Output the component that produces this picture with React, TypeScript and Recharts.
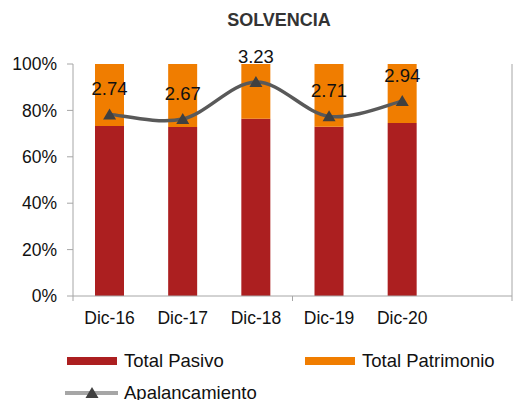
import { ComposedChart, Bar, Line, XAxis, YAxis, LabelList } from 'recharts';

const periodos = ['Dic-16', 'Dic-17', 'Dic-18', 'Dic-19', 'Dic-20', ''];
const totalPasivo = [73.3, 72.8, 76.4, 73.0, 74.6, null];
const totalPatrimonio = [26.7, 27.2, 23.6, 27.0, 25.4, null];
const apalancamiento = [2.74, 2.67, 3.23, 2.71, 2.94, null];
const ticksIzq = [0, 20, 40, 60, 80, 100];
const ticksDer = [0, 0.5, 1, 1.5, 2, 2.5, 3, 3.5];

const FONT = '"Liberation Sans", Arial, sans-serif';
const AXIS = '#a6a6a6';

const data = periodos.map((p, i) => ({
    periodo: p,
    pasivo: totalPasivo[i],
    patrimonio: totalPatrimonio[i],
    apalancamiento: apalancamiento[i],
}));

// curva suavizada tipo Excel (Catmull-Rom -> Bezier)
const curvaExcel = (context: any) => {
    let pts: [number, number][] = [];
    return {
        areaStart() {},
        areaEnd() {},
        lineStart() { pts = []; },
        lineEnd() {
            if (!pts.length) return;
            context.moveTo(pts[0][0], pts[0][1]);
            for (let i = 0; i < pts.length - 1; i++) {
                const p0 = pts[Math.max(i - 1, 0)];
                const p1 = pts[i];
                const p2 = pts[i + 1];
                const p3 = pts[Math.min(i + 2, pts.length - 1)];
                context.bezierCurveTo(
                    p1[0] + (p2[0] - p0[0]) / 6, p1[1] + (p2[1] - p0[1]) / 6,
                    p2[0] - (p3[0] - p1[0]) / 6, p2[1] - (p3[1] - p1[1]) / 6,
                    p2[0], p2[1]
                );
            }
        },
        point(x: number, y: number) { pts.push([+x, +y]); },
    };
};

// marcador triangular como en Excel
const Triangulo = (props: any) => {
    const { cx, cy, index } = props;
    if (cx == null || cy == null || props.value == null) return <g key={index} />;
    return (
        <path
            key={index}
            d={`M${cx},${cy - 6} L${cx + 6.5},${cy + 5} L${cx - 6.5},${cy + 5} Z`}
            fill="#404040"
        />
    );
};

// etiqueta de categoria + marcas entre categorias cada 3
const TickX = (props: any) => {
    const { x, y, payload, index } = props;
    const half = payload.offset || 0;
    let marca = null;
    if (index === 0) marca = x - half;
    else if (index === 2 || index === 5) marca = x + half;
    return (
        <g>
            {marca !== null && <line x1={marca} x2={marca} y1={y - 8} y2={y - 3} stroke={AXIS} />}
            <text x={x} y={y + 20} textAnchor="middle" fontSize={17.5} fill="#111" fontFamily={FONT}>
                {payload.value}
            </text>
        </g>
    );
};

export default function App() {
    return (
        <div style={{ position: 'absolute', left: 0, top: 0, width: 514, height: 400, background: '#fff', fontFamily: FONT }}>
            <div style={{ position: 'absolute', left: 0, width: 558, top: 10, textAlign: 'center', fontWeight: 'bold', fontSize: 18, color: '#333' }}>
                SOLVENCIA
            </div>
            <ComposedChart
                width={514}
                height={400}
                data={data}
                margin={{ top: 64, right: 0, bottom: 74, left: 0 }}
            >
                <XAxis
                    dataKey="periodo"
                    xAxisId={0}
                    stroke={AXIS}
                    tickLine={false}
                    tick={<TickX />}
                    height={30}
                    interval={0}
                />
                <YAxis
                    yAxisId="left"
                    domain={[0, 100]}
                    ticks={ticksIzq}
                    tickFormatter={(v: number) => `${v}%`}
                    stroke={AXIS}
                    tickSize={6}
                    tickMargin={10}
                    width={73}
                    tick={{ fill: '#111', fontSize: 17.5, fontFamily: FONT }}
                />
                <YAxis
                    yAxisId="right"
                    orientation="right"
                    domain={[0, 3.5]}
                    ticks={ticksDer}
                    stroke={AXIS}
                    tickSize={3}
                    tick={false}
                    width={2}
                />
                <Bar yAxisId="left" dataKey="pasivo" stackId="a" fill="#ac1f20" barSize={29} isAnimationActive={false} />
                <Bar yAxisId="left" dataKey="patrimonio" stackId="a" fill="#f07d00" barSize={29} isAnimationActive={false} />
                <Line
                    yAxisId="right"
                    dataKey="apalancamiento"
                    type={curvaExcel as any}
                    stroke="#595959"
                    strokeWidth={3.5}
                    dot={(p: any) => <Triangulo {...p} />}
                    activeDot={false}
                    isAnimationActive={false}
                >
                    <LabelList
                        dataKey="apalancamiento"
                        position="top"
                        offset={19}
                        formatter={(v: any) => (v == null ? '' : Number(v).toFixed(2))}
                        style={{ fontSize: 18.5, fill: '#111', fontFamily: FONT }}
                    />
                </Line>
            </ComposedChart>
            {/* leyenda */}
            <div style={{ position: 'absolute', left: 67, top: 350, fontSize: 18.5, color: '#111', lineHeight: '22px' }}>
                <div style={{ display: 'flex', alignItems: 'center' }}>
                    <span style={{ display: 'inline-block', width: 50, height: 8, background: '#ac1f20', marginRight: 7 }} />
                    <span style={{ width: 181 }}>Total Pasivo</span>
                    <span style={{ display: 'inline-block', width: 50, height: 8, background: '#f07d00', marginRight: 7 }} />
                    <span>Total Patrimonio</span>
                </div>
                <div style={{ display: 'flex', alignItems: 'center', marginTop: 10, marginLeft: -2 }}>
                    <svg width={53} height={14} style={{ marginRight: 6 }}>
                        <line x1={0} x2={53} y1={7} y2={7} stroke="#a6a6a6" strokeWidth={4} />
                        <path d="M27,1 L33.5,12 L20.5,12 Z" fill="#404040" />
                    </svg>
                    <span>Apalancamiento</span>
                </div>
            </div>
        </div>
    );
}
